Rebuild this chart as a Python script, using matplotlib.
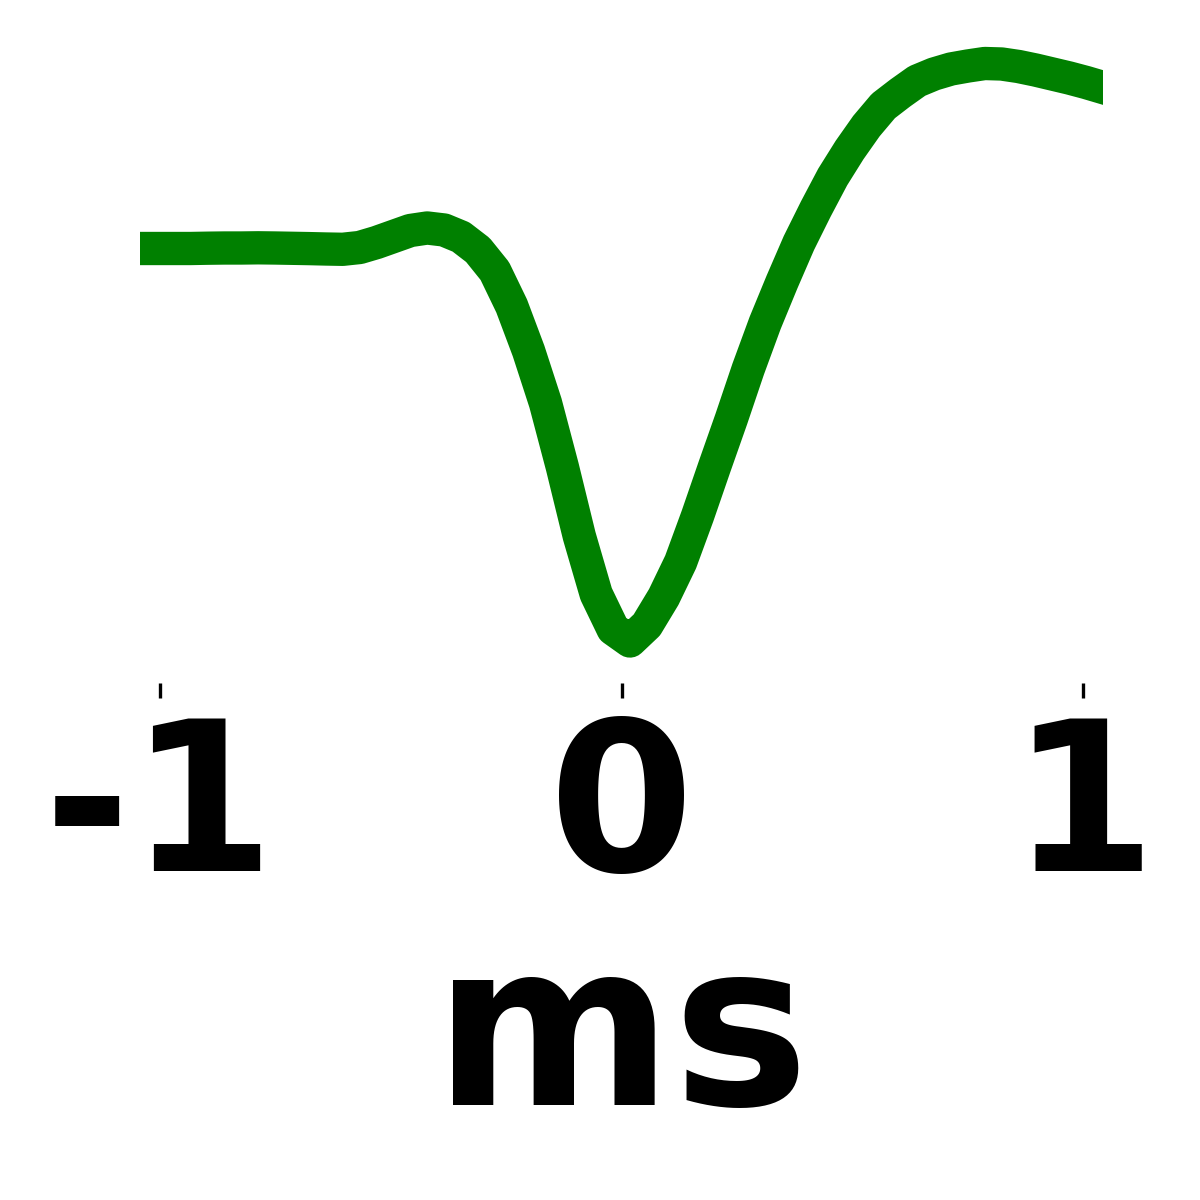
import numpy as np
import matplotlib
matplotlib.use('Agg')
import matplotlib.pyplot as plt

# mean spike waveform, 58 samples spanning the full window
time_ms = np.linspace(-1.043, 1.043, 58)
amplitude_uv = [
    0.0, 0.0, 0.0, 0.0, 0.06, 0.1, 0.1, 0.14, 0.1, 0.04, -0.02,
    -0.1, -0.16, 0.2, 1.2, 2.4, 3.6, 4.1, 3.7, 2.3, -0.3,
    -4.5, -11.5, -20.5, -30.9, -43.7, -57.5, -69.1, -76.1, -78.5, -75.3,
    -69.7, -62.7, -53.5, -43.7, -34.1, -24.1, -14.9, -6.7, 1.1, 7.9,
    14.3, 19.7, 24.5, 28.5, 31.1, 33.5, 34.9, 35.9, 36.5, 37.0,
    36.9, 36.4, 35.7, 34.9, 34.1, 33.2, 32.2,
]
tick_pos = [-1, 0, 1]
tick_labels = ['-1', '0', '1']

fig = plt.figure(figsize=(4, 4), dpi=300)
# axes from x=140 to x=1103 px, bottom at y=683 px
ax = fig.add_axes([140 / 1200, 1 - 683 / 1200, 963 / 1200, 683 / 1200])
ax.plot(time_ms, amplitude_uv, color='green', lw=8)

ax.set_xlim(time_ms[0], time_ms[-1])
ax.set_ylim((248.5 - 683) / 5, 248.5 / 5)

for s in ax.spines.values():
    s.set_visible(False)
ax.set_yticks([])
ax.set_xticks(tick_pos)
ax.set_xticklabels(tick_labels, fontsize=50, fontweight='bold')
ax.set_xlabel('ms', fontsize=55, fontweight='bold')

fig.savefig('out.png', dpi=300)
